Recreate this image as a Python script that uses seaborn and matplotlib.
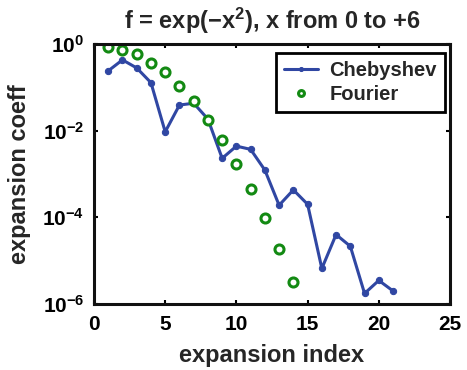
import numpy as np
import pandas as pd
import matplotlib
matplotlib.use("Agg")
import matplotlib.pyplot as plt
import seaborn as sns
from matplotlib.ticker import FixedLocator, LogFormatterMathtext, NullLocator

# Expansion coefficients of f = exp(-x^2) on [0, 6]
cheb_index = [1, 2, 3, 4, 5, 6, 7, 8, 9, 10, 11, 12, 13, 14, 15, 16, 17, 18, 19, 20, 21]
cheb_coeff = [0.24, 0.43, 0.28, 0.128, 0.0094, 0.039, 0.043, 0.0185, 0.0023, 0.0044,
              0.0037, 0.00123, 1.9e-4, 4.3e-4, 2.0e-4, 6.6e-6, 4.0e-5, 2.15e-5,
              1.75e-6, 3.5e-6, 2.0e-6]

four_index = [1, 2, 3, 4, 5, 6, 7, 8, 9, 10, 11, 12, 13, 14]
four_coeff = [0.84, 0.73, 0.58, 0.37, 0.22, 0.109, 0.049, 0.018, 0.0060, 0.0017,
              4.4e-4, 9.8e-5, 1.87e-5, 3.2e-6]

x_ticks = [0, 5, 10, 15, 20, 25]
y_ticks = [1e-6, 1e-4, 1e-2, 1e0]

sns.set_style("ticks")
plt.rcParams["font.family"] = ["Liberation Sans", "DejaVu Sans"]
plt.rcParams["font.weight"] = "bold"
plt.rcParams["axes.labelweight"] = "bold"
plt.rcParams["axes.titleweight"] = "bold"

cheb = pd.DataFrame({"index": cheb_index, "coeff": cheb_coeff})
four = pd.DataFrame({"index": four_index, "coeff": four_coeff})

fig = plt.figure(figsize=(4.67, 3.70), dpi=100)
ax = fig.add_axes([94 / 467, 1 - 304 / 370, (450 - 94) / 467, (304 - 44) / 370])

blue = "#3047a3"
green = "#138a13"

sns.lineplot(data=cheb, x="index", y="coeff", ax=ax, color=blue, linewidth=2.2,
             marker="o", markersize=4.5, markeredgecolor=blue, label="Chebyshev")
ax.plot(four["index"], four["coeff"], linestyle="none", marker="o", markersize=6.5,
        markerfacecolor="white", markeredgecolor=green, markeredgewidth=2.2,
        label="Fourier")

ax.set_yscale("log")
ax.set_xlim(0, 25)
ax.set_ylim(1e-6, 1e0)
ax.xaxis.set_major_locator(FixedLocator(x_ticks))
ax.yaxis.set_major_locator(FixedLocator(y_ticks))
ax.yaxis.set_major_formatter(LogFormatterMathtext())
ax.yaxis.set_minor_locator(NullLocator())

ax.tick_params(axis="both", which="major", direction="in", length=3, width=1.5,
               top=True, right=True, labelsize=15, colors="black")
ax.tick_params(axis="x", pad=8)
ax.tick_params(axis="y", pad=7)
for tl in ax.get_xticklabels() + ax.get_yticklabels():
    tl.set_fontweight("bold")
for s in ax.spines.values():
    s.set_visible(True)
    s.set_linewidth(2.2)
    s.set_color("#111111")

ax.set_xlabel("expansion index", fontsize=17, fontweight="bold", labelpad=7)
ax.set_ylabel("expansion coeff", fontsize=17, fontweight="bold", labelpad=8)
ax.set_title(r"f = exp($\mathdefault{-x^{2}}$), x from 0 to +6", fontsize=17,
             fontweight="bold", pad=11)

leg = ax.legend(loc="upper right", bbox_to_anchor=(0.986, 0.965), fontsize=14.5,
                frameon=True, fancybox=False, edgecolor="black", framealpha=1,
                borderpad=0.4, handlelength=1.7, borderaxespad=0.0,
                labelspacing=0.25, handletextpad=0.55, markerscale=0.65)
leg.get_frame().set_linewidth(2.0)
for t in leg.get_texts():
    t.set_fontweight("bold")

fig.savefig("out.png", dpi=100)
